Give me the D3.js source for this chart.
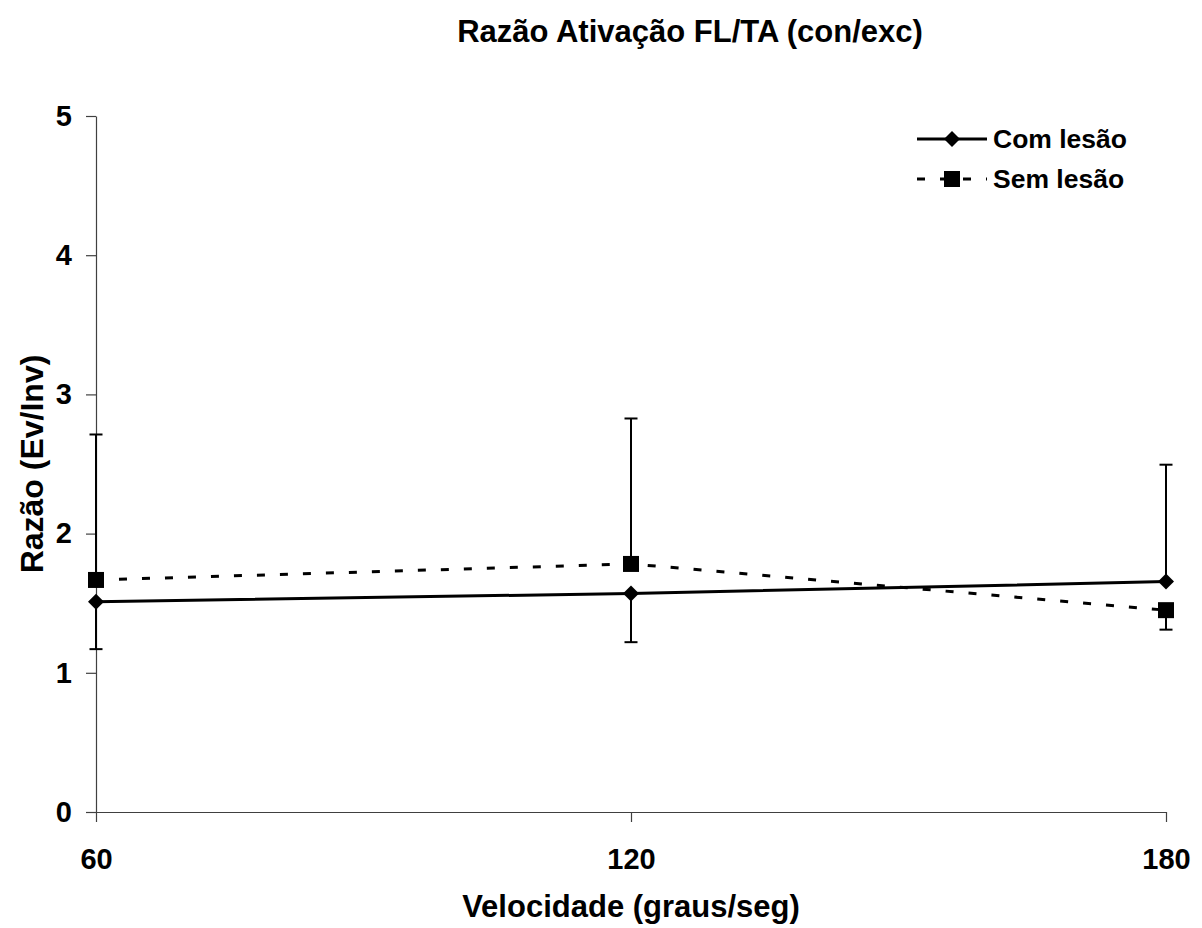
<!DOCTYPE html>
<html>
<head>
<meta charset="utf-8">
<script src="https://cdn.jsdelivr.net/npm/d3@7"></script>
<style>
  body { margin: 0; background: #fff; }
  text { font-family: "Liberation Sans", Arial, sans-serif; font-weight: bold; fill: #000; }
</style>
</head>
<body>
<svg id="chart"></svg>
<script>
// data
const velocities = ["60", "120", "180"];
const comLesao = [1.51, 1.57, 1.655];
const semLesao = [1.667, 1.782, 1.45];
// one-sided error bars (as drawn in the original)
const comErrPlus = [0, 0, 0.84];
const comErrMinus = [0.34, 0.35, 0];
const semErrPlus = [1.045, 1.045, 0];
const semErrMinus = [0, 0, 0.14];
const yTicks = [0, 1, 2, 3, 4, 5];

const width = 1202, height = 928;
const margin = { top: 116, right: 36, bottom: 116, left: 96 };

const svg = d3.select("#chart")
    .attr("width", width)
    .attr("height", height);

const x = d3.scalePoint()
    .domain(velocities)
    .range([margin.left, width - margin.right]);

const y = d3.scaleLinear()
    .domain([0, 5])
    .range([height - margin.bottom, margin.top]);

const axisColor = "#404040";

// y axis
const yAxis = svg.append("g")
    .attr("transform", `translate(${margin.left},0)`)
    .call(d3.axisLeft(y).tickValues(yTicks).tickSize(10).tickSizeOuter(0).tickPadding(14).tickFormat(d3.format("d")));
yAxis.select(".domain").attr("stroke", axisColor).attr("stroke-width", 1.2);
yAxis.selectAll(".tick line").attr("stroke", axisColor).attr("stroke-width", 1.2);
yAxis.selectAll(".tick text").attr("font-size", 29).attr("font-family", null);

// x axis
const xAxis = svg.append("g")
    .attr("transform", `translate(0,${y(0)})`)
    .call(d3.axisBottom(x).tickSize(10).tickSizeOuter(0).tickPadding(26));
xAxis.select(".domain").attr("stroke", axisColor).attr("stroke-width", 1.2);
xAxis.selectAll(".tick line").attr("stroke", axisColor).attr("stroke-width", 1.2);
xAxis.selectAll(".tick text").attr("font-size", 29).attr("font-family", null);

// error bars
function errorBars(values, plus, minus) {
    const rows = velocities.map((v, i) => ({ v, lo: values[i] - minus[i], hi: values[i] + plus[i] }))
        .filter(d => d.hi - d.lo > 0);
    const g = svg.append("g").attr("stroke", "#000").attr("stroke-width", 2);
    rows.forEach(d => {
        const cx = x(d.v);
        g.append("line").attr("x1", cx).attr("x2", cx).attr("y1", y(d.lo)).attr("y2", y(d.hi));
        g.append("line").attr("x1", cx - 6.5).attr("x2", cx + 6.5).attr("y1", y(d.lo)).attr("y2", y(d.lo));
        g.append("line").attr("x1", cx - 6.5).attr("x2", cx + 6.5).attr("y1", y(d.hi)).attr("y2", y(d.hi));
    });
}
errorBars(comLesao, comErrPlus, comErrMinus);
errorBars(semLesao, semErrPlus, semErrMinus);

const line = d3.line()
    .x((d, i) => x(velocities[i]))
    .y(d => y(d));

svg.append("path")
    .datum(semLesao)
    .attr("fill", "none")
    .attr("stroke", "#000")
    .attr("stroke-width", 3)
    .attr("stroke-dasharray", "8,15")
    .attr("d", line);

svg.append("path")
    .datum(comLesao)
    .attr("fill", "none")
    .attr("stroke", "#000")
    .attr("stroke-width", 3)
    .attr("d", line);

const diamond = d3.symbol().type(d3.symbolSquare).size(128);
const square = d3.symbol().type(d3.symbolSquare).size(256);

svg.append("g").selectAll("path")
    .data(comLesao)
    .join("path")
    .attr("d", diamond)
    .attr("transform", (d, i) => `translate(${x(velocities[i])},${y(d)}) rotate(45)`)
    .attr("fill", "#000");

svg.append("g").selectAll("path")
    .data(semLesao)
    .join("path")
    .attr("d", square)
    .attr("transform", (d, i) => `translate(${x(velocities[i])},${y(d)})`)
    .attr("fill", "#000");

// legend
const legend = svg.append("g").attr("transform", "translate(917,0)");
legend.append("line")
    .attr("x1", 0).attr("x2", 70).attr("y1", 139).attr("y2", 139)
    .attr("stroke", "#000").attr("stroke-width", 3);
legend.append("path")
    .attr("d", diamond)
    .attr("transform", "translate(35,139) rotate(45)");
legend.append("text")
    .attr("x", 76).attr("y", 139).attr("dy", "0.35em")
    .attr("font-size", 26.5)
    .text("Com lesão");

legend.append("line")
    .attr("x1", 0).attr("x2", 70).attr("y1", 179).attr("y2", 179)
    .attr("stroke", "#000").attr("stroke-width", 3)
    .attr("stroke-dasharray", "8,15");
legend.append("path")
    .attr("d", square)
    .attr("transform", "translate(35,179)");
legend.append("text")
    .attr("x", 76).attr("y", 179).attr("dy", "0.35em")
    .attr("font-size", 26.5)
    .text("Sem lesão");

// title and axis titles
svg.append("text")
    .attr("x", 690).attr("y", 42)
    .attr("text-anchor", "middle")
    .attr("font-size", 31)
    .text("Razão Ativação FL/TA (con/exc)");

svg.append("text")
    .attr("x", (margin.left + width - margin.right) / 2).attr("y", 917)
    .attr("text-anchor", "middle")
    .attr("font-size", 31)
    .text("Velocidade (graus/seg)");

svg.append("text")
    .attr("transform", `translate(43,${(margin.top + height - margin.bottom) / 2}) rotate(-90)`)
    .attr("text-anchor", "middle")
    .attr("font-size", 32)
    .text("Razão (Ev/Inv)");
</script>
</body>
</html>
